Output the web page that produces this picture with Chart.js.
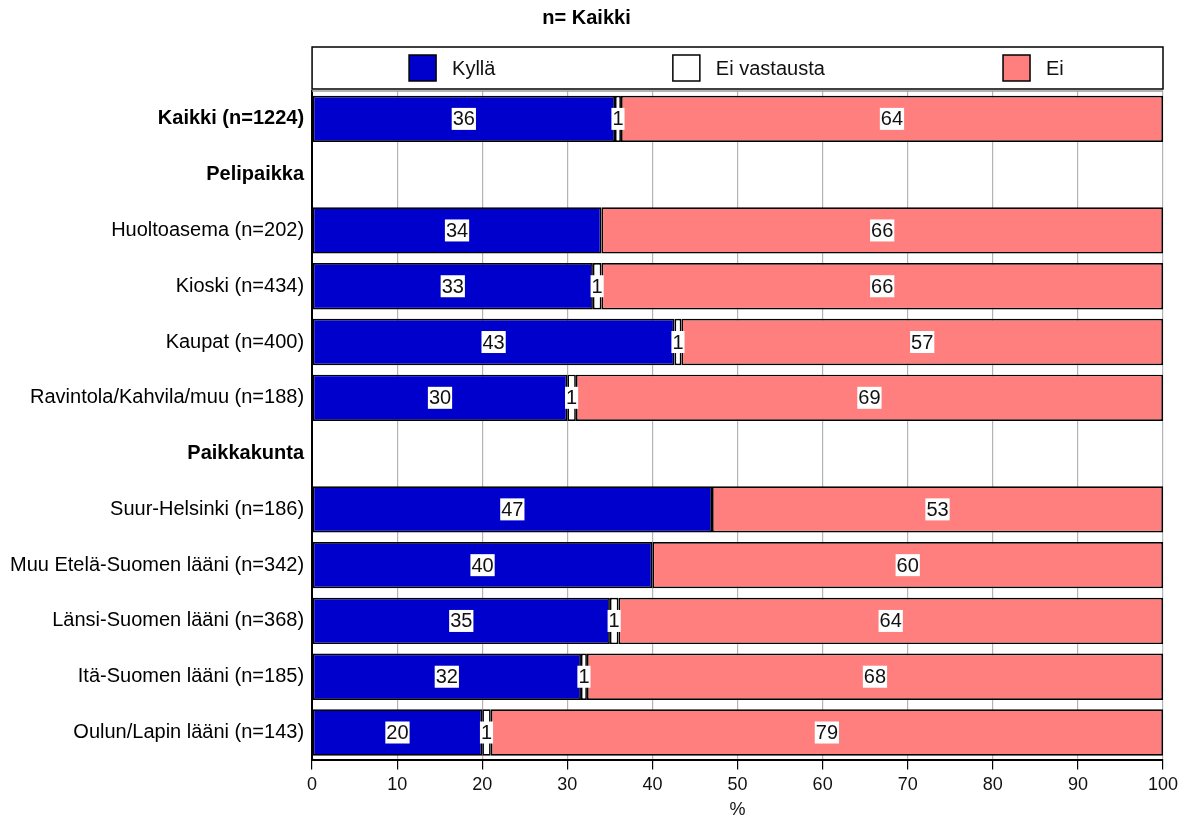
<!DOCTYPE html>
<html>
<head>
<meta charset="utf-8">
<script src="https://cdn.jsdelivr.net/npm/chart.js@4.4.1/dist/chart.umd.min.js"></script>
<style>
html,body{margin:0;padding:0;background:#fff;}
#wrap{width:1190px;height:819px;}
</style>
</head>
<body>
<div id="wrap"><canvas id="c" width="1190" height="819"></canvas></div>
<script>
const categories = [
  "Kaikki (n=1224)",
  "Pelipaikka",
  "Huoltoasema (n=202)",
  "Kioski (n=434)",
  "Kaupat (n=400)",
  "Ravintola/Kahvila/muu (n=188)",
  "Paikkakunta",
  "Suur-Helsinki (n=186)",
  "Muu Etelä-Suomen lääni (n=342)",
  "Länsi-Suomen lääni (n=368)",
  "Itä-Suomen lääni (n=185)",
  "Oulun/Lapin lääni (n=143)"
];
const boldRows = [0, 1, 6];
const seriesNames = ["Kyllä", "Ei vastausta", "Ei"];
const kylla       = [35.6, null, 34.0, 33.0, 42.6, 30.0, null, 47.0, 40.0, 35.0, 31.6, 20.0];
const eiVastausta = [0.7,  null, 0,    1.0,  0.8,  1.0,  null, 0,    0,    1.0,  0.7,  1.0];
const ei          = [63.7, null, 66.0, 66.0, 56.6, 69.0, null, 53.0, 60.0, 64.0, 67.7, 79.0];
const xTicks = [0,10,20,30,40,50,60,70,80,90,100];

const FONT = "'Liberation Sans', Arial, sans-serif";
const colors = ["#0000CC", "#FFFFFF", "#FF7F7F"];

const legendBox = {
  id: 'legendBox',
  afterDraw(chart) {
    const ctx = chart.ctx, a = chart.chartArea;
    const top = a.top - 44, bottom = a.top - 2;
    ctx.save();
    ctx.strokeStyle = '#000';
    ctx.lineWidth = 1.5;
    ctx.strokeRect(a.left, top, a.right - a.left, bottom - top);
    const fr = [0.114, 0.424, 0.812];
    const mid = (top + bottom) / 2;
    ctx.font = "20px " + FONT;
    ctx.textBaseline = 'middle';
    ctx.textAlign = 'left';
    seriesNames.forEach((name, i) => {
      const x = a.left + fr[i] * (a.right - a.left);
      ctx.fillStyle = colors[i];
      ctx.fillRect(x, mid - 13, 27, 26);
      ctx.strokeStyle = '#000';
      ctx.lineWidth = 1.5;
      ctx.strokeRect(x, mid - 13, 27, 26);
      ctx.fillStyle = '#111';
      ctx.fillText(name, x + 43, mid + 1);
    });
    ctx.restore();
  }
};

const frameTop = {
  id: 'frameTop',
  beforeDatasetsDraw(chart) {
    const ctx = chart.ctx, a = chart.chartArea;
    ctx.save();
    ctx.strokeStyle = '#9a9a9a';
    ctx.lineWidth = 1.5;
    ctx.beginPath();
    ctx.moveTo(a.left, a.top);
    ctx.lineTo(a.right, a.top);
    ctx.stroke();
    ctx.restore();
  }
};

const valueLabels = {
  id: 'valueLabels',
  afterDatasetsDraw(chart) {
    const ctx = chart.ctx;
    ctx.save();
    ctx.font = "20px " + FONT;
    ctx.textAlign = 'center';
    ctx.textBaseline = 'middle';
    chart.data.datasets.forEach((ds, di) => {
      const meta = chart.getDatasetMeta(di);
      meta.data.forEach((el, i) => {
        const v = ds.data[i];
        if (v === null || v === undefined || v <= 0) return;
        const txt = String(Math.round(v));
        const cx = (el.x + el.base) / 2;
        const cy = el.y;
        const w = ctx.measureText(txt).width + 2;
        ctx.fillStyle = '#fff';
        ctx.fillRect(cx - w / 2, cy - 11, w, 22);
        ctx.fillStyle = '#111';
        ctx.fillText(txt, cx, cy + 1);
      });
    });
    ctx.restore();
  }
};

new Chart(document.getElementById('c'), {
  type: 'bar',
  data: {
    labels: categories,
    datasets: [
      { label: seriesNames[0], data: kylla, backgroundColor: colors[0] },
      { label: seriesNames[1], data: eiVastausta, backgroundColor: colors[1] },
      { label: seriesNames[2], data: ei, backgroundColor: colors[2] }
    ]
  },
  options: {
    indexAxis: 'y',
    responsive: false,
    animation: false,
    devicePixelRatio: 1,
    datasets: {
      bar: {
        borderColor: '#000',
        borderWidth: 1.7,
        borderSkipped: false,
        barPercentage: 0.83,
        categoryPercentage: 1.0
      }
    },
    layout: { padding: { left: 10, right: 27, top: 0, bottom: 0 } },
    plugins: {
      legend: { display: false },
      tooltip: { enabled: false },
      title: {
        display: true,
        text: 'n= Kaikki',
        color: '#000',
        font: { family: FONT, size: 20, weight: 'bold' },
        padding: { top: 6, bottom: 61 }
      }
    },
    scales: {
      x: {
        stacked: true,
        min: 0, max: 100,
        afterBuildTicks(scale) { scale.ticks = xTicks.map(v => ({ value: v })); },
        grid: { color: '#b4b4b4', lineWidth: 1.2, tickColor: '#000', tickLength: 9, drawTicks: true },
        border: { display: true, color: '#000', width: 2 },
        ticks: { color: '#111', font: { family: FONT, size: 18 }, padding: 5, maxRotation: 0 },
        title: { display: true, text: '%', color: '#111', font: { family: FONT, size: 18, lineHeight: 1.0 }, padding: { top: 0, bottom: 0 } }
      },
      y: {
        stacked: true,
        grid: { display: false },
        border: { display: true, color: '#000', width: 2 },
        ticks: {
          color: '#000',
          padding: 0,
          autoSkip: false,
          font: (ctx) => ({ family: FONT, size: 20, weight: boldRows.includes(ctx.index) ? 'bold' : 'normal' })
        }
      }
    }
  },
  plugins: [legendBox, frameTop, valueLabels]
});
</script>
</body>
</html>
